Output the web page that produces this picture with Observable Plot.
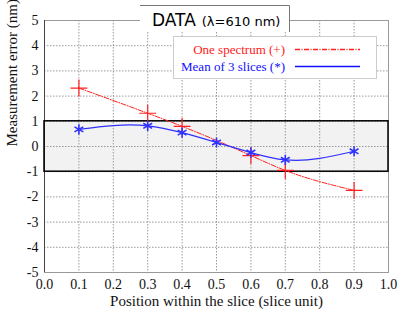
<!DOCTYPE html>
<html>
<head>
<meta charset="utf-8">
<script src="https://cdn.jsdelivr.net/npm/d3@7"></script>
<script src="https://cdn.jsdelivr.net/npm/@observablehq/plot@0.6"></script>
<style>
  html, body { margin: 0; padding: 0; background: #fff; }
  #chart svg { display: block; }
</style>
</head>
<body>
<div id="chart"></div>
<script>
// Data
const redX = [0.1, 0.3, 0.4, 0.6, 0.7, 0.9];
const redY = [2.32, 1.32, 0.8, -0.36, -0.95, -1.74];
const blueX = [0.1, 0.3, 0.4, 0.5, 0.6, 0.7, 0.9];
const blueY = [0.68, 0.82, 0.55, 0.16, -0.24, -0.53, -0.19];
const xTicks = [0, 0.1, 0.2, 0.3, 0.4, 0.5, 0.6, 0.7, 0.8, 0.9, 1.0];
const yTicks = [-5, -4, -3, -2, -1, 0, 1, 2, 3, 4, 5];
const band = [{x1: 0, x2: 1, y1: -1, y2: 1}];
const legendLabels = ["One spectrum (+)", "Mean of 3 slices (*)"];
const titleMain = "DATA";
const titleSub = "(λ=610 nm)";
const xLabel = "Position within the slice (slice unit)";
const yLabel = "Measurement error (nm)";

const red = redX.map((x, i) => ({x, y: redY[i]}));
const blue = blueX.map((x, i) => ({x, y: blueY[i]}));

const serif = "'Liberation Serif', 'Times New Roman', serif";
const sans = "'DejaVu Sans', sans-serif";

// Natural cubic spline with x as the independent variable
function splineX(context) {
  let pts;
  return {
    areaStart() {}, areaEnd() {},
    lineStart() { pts = []; },
    point(x, y) { pts.push([+x, +y]); },
    lineEnd() {
      const n = pts.length;
      if (!n) return;
      context.moveTo(pts[0][0], pts[0][1]);
      if (n < 3) { for (let i = 1; i < n; i++) context.lineTo(pts[i][0], pts[i][1]); return; }
      const h = [], M = new Array(n).fill(0);
      for (let i = 0; i < n - 1; i++) h.push(pts[i + 1][0] - pts[i][0]);
      const a = [], b = [], c = [], d = [];
      for (let i = 1; i < n - 1; i++) {
        a.push(h[i - 1]); b.push(2 * (h[i - 1] + h[i])); c.push(h[i]);
        d.push(6 * ((pts[i + 1][1] - pts[i][1]) / h[i] - (pts[i][1] - pts[i - 1][1]) / h[i - 1]));
      }
      const m = b.length;
      for (let i = 1; i < m; i++) { const w = a[i] / b[i - 1]; b[i] -= w * c[i - 1]; d[i] -= w * d[i - 1]; }
      const sol = new Array(m);
      sol[m - 1] = d[m - 1] / b[m - 1];
      for (let i = m - 2; i >= 0; i--) sol[i] = (d[i] - c[i] * sol[i + 1]) / b[i];
      for (let i = 0; i < m; i++) M[i + 1] = sol[i];
      for (let i = 0; i < n - 1; i++) {
        const [x0, y0] = pts[i], [x1, y1] = pts[i + 1], hi = h[i];
        const s = (y1 - y0) / hi;
        const m0 = s - hi * (2 * M[i] + M[i + 1]) / 6;
        const m1 = s + hi * (M[i] + 2 * M[i + 1]) / 6;
        context.bezierCurveTo(x0 + hi / 3, y0 + m0 * hi / 3, x1 - hi / 3, y1 - m1 * hi / 3, x1, y1);
      }
    }
  };
}

const plot = Plot.plot({
  width: 399,
  height: 314,
  marginLeft: 44,
  marginRight: 11,
  marginTop: 20,
  marginBottom: 42,
  style: {fontFamily: serif, fontSize: "14px", color: "#111", background: "#fff"},
  x: {domain: [0, 1]},
  y: {domain: [-5, 5]},
  marks: [
    Plot.rect(band, {x1: "x1", x2: "x2", y1: "y1", y2: "y2", fill: "#f2f2f2"}),
    Plot.gridX(xTicks, {stroke: "#999", strokeOpacity: 1, strokeDasharray: "1.5,1.5"}),
    Plot.gridY(yTicks, {stroke: "#999", strokeOpacity: 1, strokeDasharray: "1.5,1.5"}),
    Plot.frame({stroke: "#999"}),
    Plot.ruleX([0], {stroke: "#444"}),
    Plot.rect(band, {x1: "x1", x2: "x2", y1: "y1", y2: "y2", fill: "none", stroke: "#000", strokeWidth: 1.5}),
    Plot.line(red, {x: "x", y: "y", stroke: "#ff2020", strokeWidth: 1, strokeDasharray: "5,1.5,1,1.5", curve: splineX}),
    Plot.line(blue, {x: "x", y: "y", stroke: "#3030ff", strokeWidth: 1.2, curve: splineX}),
    Plot.dot(red, {x: "x", y: "y", symbol: "plus", r: 5.5, stroke: "#ff2020", strokeWidth: 1.2}),
    Plot.dot(blue, {x: "x", y: "y", symbol: "asterisk", r: 4.8, stroke: "#3030ff", strokeWidth: 1.6}),
    Plot.axisX({ticks: xTicks, tickFormat: d3.format(".1f"), tickSize: 0, tickPadding: 7, label: null,
                fontSize: 14, fontFamily: serif, fill: "#111"}),
    Plot.axisY({ticks: yTicks, tickFormat: d => String(d), tickSize: 0, tickPadding: 6, label: null,
                fontSize: 14, fontFamily: serif, fill: "#111"}),
    Plot.text([xLabel], {frameAnchor: "bottom", dy: 33, fontSize: 15, fontFamily: serif, fill: "#111"}),
    Plot.text([yLabel], {frameAnchor: "left", dx: -32, rotate: -90, fontSize: 15, fontFamily: serif, fill: "#111"})
  ]
});

const svg = d3.select(plot);

// Title box
const tb = svg.append("g").style("text-anchor", "start");
tb.append("rect").attr("x", 140).attr("y", 5).attr("width", 149.5).attr("height", 27).style("fill", "#fff");
tb.append("path").attr("d", "M140,5.5H289.5V32").style("fill", "none").style("stroke", "#777").style("stroke-width", 1);
const tt = tb.append("text").attr("x", 152).attr("y", 26)
  .style("font-family", sans).style("fill", "#000").style("text-anchor", "start");
tt.append("tspan").style("font-size", "17px").text(titleMain);
tt.append("tspan").style("font-size", "13px").attr("dx", 6).text(titleSub);

// Legend
const lg = svg.append("g");
lg.append("rect").attr("x", 173.5).attr("y", 36.5).attr("width", 203).attr("height", 42)
  .style("fill", "#fff").style("stroke", "#ccc");
const colors = ["#ff2020", "#1010ff"];
const dashes = ["5,1.5,1,1.5", "none"];
legendLabels.forEach((lab, i) => {
  const yy = 49 + i * 17;
  lg.append("text").attr("x", 285).attr("y", yy).attr("dy", "0.35em")
    .style("text-anchor", "end").style("font-family", serif).style("font-size", "13px")
    .style("fill", colors[i]).text(lab);
  lg.append("path").attr("d", `M295,${yy + 0.5}H360`)
    .style("fill", "none").style("stroke", colors[i]).style("stroke-width", 1.3).style("stroke-dasharray", dashes[i]);
});

document.getElementById("chart").appendChild(plot);
</script>
</body>
</html>
